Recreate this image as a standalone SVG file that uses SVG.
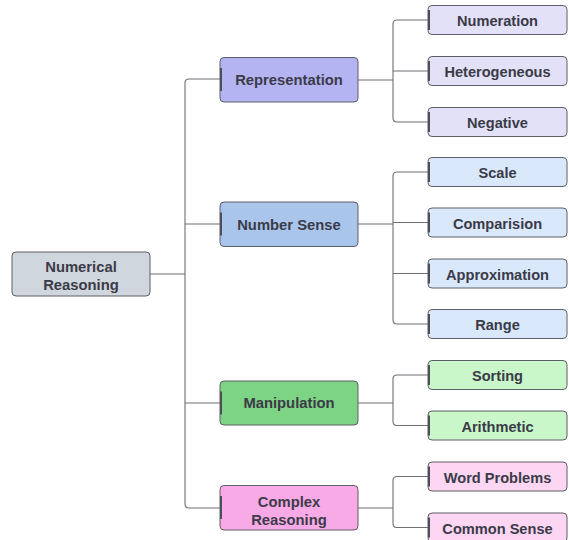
<svg xmlns="http://www.w3.org/2000/svg" width="569" height="540" viewBox="0 0 569 540">
<style>
.box{stroke:#5e5e66;stroke-width:1}
.bar{fill:none;stroke:#4e4e56;stroke-width:2}
.t{font-family:"Liberation Sans",Arial,sans-serif;font-weight:bold;font-size:14.8px;fill:#3b3b48;text-anchor:middle;dominant-baseline:central}
.lt{font-size:14.6px}
.c{fill:none;stroke:#6e6e76;stroke-width:1.1}
.root{fill:#cfd6de}
.rep{fill:#b5b4f3}.repl{fill:#e2e1f7}
.ns{fill:#a9c5ec}.nsl{fill:#dae8fc}
.man{fill:#7dd484}.manl{fill:#c9f7c9}
.cr{fill:#f8aae6}.crl{fill:#fcd6f2}
</style>
<rect width="569" height="540" fill="#ffffff"/>
<g id="connectors">
<path class="c" d="M150,274 H185"/>
<path class="c" d="M220,79 H189 Q185,79 185,83 V504 Q185,508 189,508 H220"/>
<path class="c" d="M185,224 H220 M185,403 H220"/>
<path class="c" d="M358,80 H393"/>
<path class="c" d="M428,20 H397 Q393,20 393,24 V118 Q393,122 397,122 H428 M393,71 H428"/>
<path class="c" d="M358,224 H393"/>
<path class="c" d="M428,172 H397 Q393,172 393,176 V320 Q393,324 397,324 H428 M393,222.5 H428 M393,273.5 H428"/>
<path class="c" d="M358,403 H393"/>
<path class="c" d="M428,375 H397 Q393,375 393,379 V421.5 Q393,425.5 397,425.5 H428"/>
<path class="c" d="M358,508 H393"/>
<path class="c" d="M428,476.5 H397 Q393,476.5 393,480.5 V523.5 Q393,527.5 397,527.5 H428"/>
</g>
<g id="root">
<rect class="box root" x="12" y="252" width="138" height="44" rx="4"/>
<text class="t" x="81" y="266.5">Numerical</text>
<text class="t" x="81" y="285">Reasoning</text>
</g>
<g id="representation">
<rect class="box rep" x="220" y="57.5" width="138" height="44.5" rx="4"/>
<path class="bar" d="M221,68 V91"/>
<text class="t" x="289" y="79.5">Representation</text>
</g>
<g id="number-sense">
<rect class="box ns" x="220" y="202" width="138" height="44.5" rx="4"/>
<path class="bar" d="M221,212.5 V235.5"/>
<text class="t" x="289" y="224.5">Number Sense</text>
</g>
<g id="manipulation">
<rect class="box man" x="220" y="381" width="138" height="44" rx="4"/>
<path class="bar" d="M221,391.5 V414.5"/>
<text class="t" x="289" y="403">Manipulation</text>
</g>
<g id="complex-reasoning">
<rect class="box cr" x="220" y="485.5" width="138" height="44.5" rx="4"/>
<path class="bar" d="M221,496 V519"/>
<text class="t" x="289" y="501.5">Complex</text>
<text class="t" x="289" y="520">Reasoning</text>
</g>
<g id="numeration">
<rect class="box repl" x="428" y="5.5" width="139" height="29" rx="4"/>
<path class="bar" d="M429,10 V30"/>
<text class="t lt" x="497.5" y="21">Numeration</text>
</g>
<g id="heterogeneous">
<rect class="box repl" x="428" y="56.5" width="139" height="29" rx="4"/>
<path class="bar" d="M429,61 V81"/>
<text class="t lt" x="497.5" y="72">Heterogeneous</text>
</g>
<g id="negative">
<rect class="box repl" x="428" y="107.5" width="139" height="29" rx="4"/>
<path class="bar" d="M429,112 V132"/>
<text class="t lt" x="497.5" y="123">Negative</text>
</g>
<g id="scale">
<rect class="box nsl" x="428" y="157.5" width="139" height="29" rx="4"/>
<path class="bar" d="M429,162 V182"/>
<text class="t lt" x="497.5" y="173">Scale</text>
</g>
<g id="comparision">
<rect class="box nsl" x="428" y="208" width="139" height="29" rx="4"/>
<path class="bar" d="M429,212.5 V232.5"/>
<text class="t lt" x="497.5" y="223.5">Comparision</text>
</g>
<g id="approximation">
<rect class="box nsl" x="428" y="259" width="139" height="29" rx="4"/>
<path class="bar" d="M429,263.5 V283.5"/>
<text class="t lt" x="497.5" y="274.5">Approximation</text>
</g>
<g id="range">
<rect class="box nsl" x="428" y="309.5" width="139" height="29" rx="4"/>
<path class="bar" d="M429,314 V334"/>
<text class="t lt" x="497.5" y="325">Range</text>
</g>
<g id="sorting">
<rect class="box manl" x="428" y="360.5" width="139" height="29" rx="4"/>
<path class="bar" d="M429,365 V385"/>
<text class="t lt" x="497.5" y="376">Sorting</text>
</g>
<g id="arithmetic">
<rect class="box manl" x="428" y="411" width="139" height="29" rx="4"/>
<path class="bar" d="M429,415.5 V435.5"/>
<text class="t lt" x="497.5" y="426.5">Arithmetic</text>
</g>
<g id="word-problems">
<rect class="box crl" x="428" y="462" width="139" height="29" rx="4"/>
<path class="bar" d="M429,466.5 V486.5"/>
<text class="t lt" x="497.5" y="477.5">Word Problems</text>
</g>
<g id="common-sense">
<rect class="box crl" x="428" y="513" width="139" height="29" rx="4"/>
<path class="bar" d="M429,517.5 V537.5"/>
<text class="t lt" x="497.5" y="528.5">Common Sense</text>
</g>
</svg>
